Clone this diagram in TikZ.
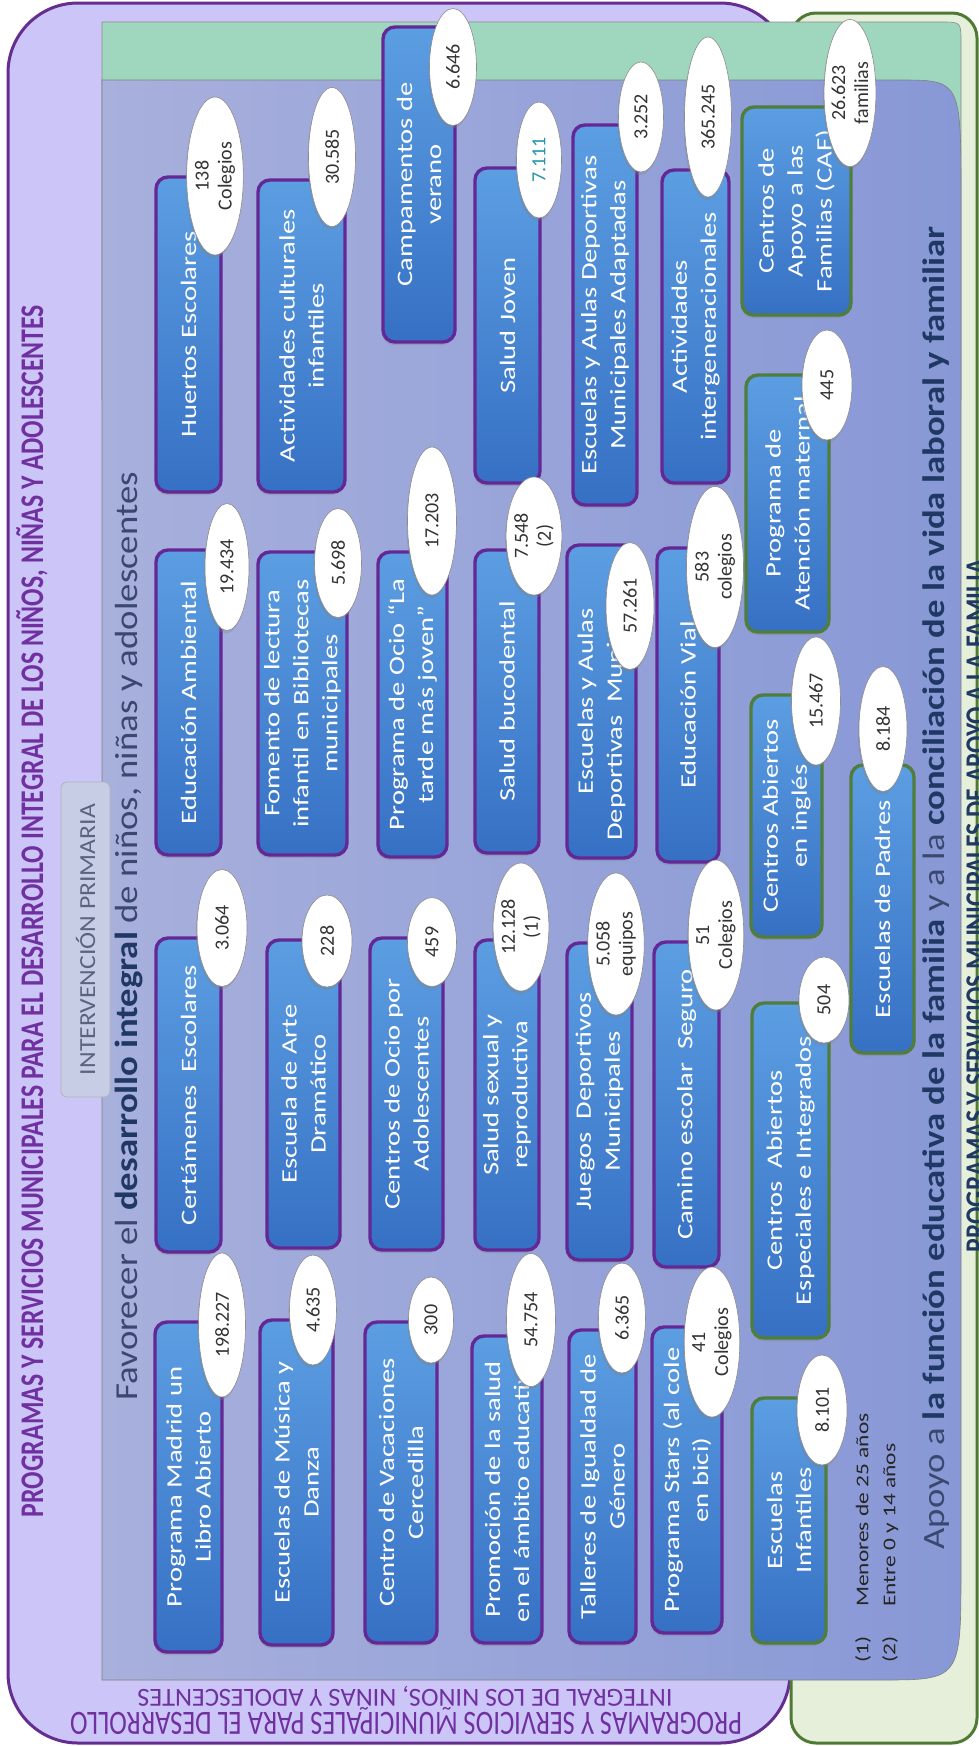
\documentclass[tikz,border=0pt]{standalone}
\usepackage{graphicx}
\usepackage{fontspec}
\setmainfont{Carlito}
\newfontfamily\boxfont[FakeStretch=1.3]{Carlito}
\usetikzlibrary{shapes.geometric,shadows}

\definecolor{lavanda}{RGB}{204,198,248}
\definecolor{morado}{RGB}{102,45,145}
\definecolor{titulo}{RGB}{112,48,160}
\definecolor{menta}{RGB}{158,214,190}
\definecolor{verdeclaro}{RGB}{229,239,218}
\definecolor{verde}{RGB}{79,122,52}
\definecolor{panelA}{RGB}{168,176,220}
\definecolor{panelB}{RGB}{136,152,214}
\definecolor{azulA}{RGB}{92,158,226}
\definecolor{azulB}{RGB}{54,112,196}
\definecolor{cajamorada}{RGB}{100,40,150}
\definecolor{cajaverde}{RGB}{80,125,60}
\definecolor{pestana}{RGB}{200,205,230}
\definecolor{gristexto}{RGB}{90,100,125}
\definecolor{pizarra}{RGB}{58,72,112}
\definecolor{marino}{RGB}{31,56,100}
\definecolor{turquesa}{RGB}{40,150,170}

\tikzset{
  prog/.style={rectangle, rounded corners=12pt, draw=cajamorada, line width=3.4pt,
    top color=azulA, bottom color=azulB, text=white, align=center, rotate=90,
    inner sep=2pt, font=\boxfont\fontsize{22}{29}\selectfont,
    drop shadow={shadow xshift=-1pt, shadow yshift=-3pt, opacity=0.35}},
  fam/.style={prog, draw=cajaverde},
  cifra/.style={ellipse, draw=black!45, line width=0.6pt, fill=white, text=black!80,
    align=center, rotate=90, inner sep=0pt, font=\fontsize{20}{23}\selectfont,
    drop shadow={shadow xshift=-1pt, shadow yshift=-3pt, opacity=0.3}},
}

\begin{document}
\begin{tikzpicture}[x=1pt, y=-1pt]
\useasboundingbox (0,0) rectangle (979,1746);
\fill[white] (0,0) rectangle (979,1746);

% paneles de fondo
\draw[fill=lavanda, draw=morado, line width=3pt, rounded corners=70pt] (8,3) rectangle (790,1743);
\draw[fill=verdeclaro, draw=verde, line width=3pt, rounded corners=25pt] (791,13) rectangle (977,1743);
\draw[fill=menta, draw=black!45, line width=0.6pt]
  (102,400) -- (102,22) -- (941,22) .. controls (961,22) .. (961,42) -- (961,400);
\draw[left color=panelA, right color=panelB, draw=black!50, line width=0.6pt]
  (102,80) -- (899,80) .. controls (961,80) .. (961,200) -- (961,1567)
  .. controls (961,1680) .. (880,1680) -- (102,1680) -- cycle;

% titulos
\node[rotate=90, anchor=base, inner sep=0pt, text=titulo] (titulo) at (43,911)
  {\resizebox{1212pt}{\height}{\fontsize{33}{33}\selectfont\bfseries PROGRAMAS Y SERVICIOS MUNICIPALES PARA EL DESARROLLO INTEGRAL DE LOS NIÑOS, NIÑAS Y ADOLESCENTES}};
\node[rotate=180, anchor=base, inner sep=0pt, text=titulo] (pie1) at (406,1712)
  {\resizebox{672pt}{\height}{\fontsize{34}{34}\selectfont PROGRAMAS Y SERVICIOS MUNICIPALES PARA EL DESARROLLO}};
\node[rotate=180, anchor=base, inner sep=0pt, text=titulo] (pie2) at (405,1689)
  {\resizebox{535pt}{\height}{\fontsize{26}{26}\selectfont INTEGRAL DE LOS NIÑOS, NIÑAS Y ADOLESCENTES}};
\node[rotate=90, anchor=base, inner sep=0pt, text=marino] (familia) at (986,906)
  {\resizebox{693pt}{\height}{\fontsize{30}{30}\selectfont\bfseries PROGRAMAS Y SERVICIOS MUNICIPALES DE APOYO A LA FAMILIA}};

\node[rotate=90, draw=black!30, fill=pestana, rounded corners=6pt, line width=0.8pt,
  minimum width=315, minimum height=49, text=gristexto] (primaria) at (85.5,939.5)
  {\resizebox{271pt}{\height}{\fontsize{23}{23}\selectfont INTERVENCIÓN PRIMARIA}};

\node[rotate=90, anchor=base, inner sep=0pt, text=pizarra] (favorecer) at (137,936)
  {\resizebox{928pt}{\height}{\fontsize{32}{32}\selectfont Favorecer el \textcolor{marino}{\bfseries desarrollo integral} de niños, niñas y adolescentes}};
\node[rotate=90, anchor=base, inner sep=0pt, text=pizarra] (apoyo) at (944,888)
  {\resizebox{1323pt}{\height}{\fontsize{31}{31}\selectfont Apoyo a \textcolor{marino}{\bfseries la función educativa de la familia} y a la \textcolor{marino}{\bfseries conciliación de la vida laboral y familiar}}};

% programas: nombre / centro x / centro y / largo / ancho / texto
\foreach \nom/\cx/\cy/\lar/\anc/\txt in {
  huertos/188.5/334.5/315/65/{Huertos Escolares},
  edamb/188.5/702.5/305/65/{Educación Ambiental},
  certamenes/188.5/1095/314/65/{Certámenes\ \ Escolares},
  madrid/188.5/1487/330/67/{Programa Madrid un\\Libro Abierto},
  actcult/301.5/336/312/87/{Actividades culturales\\infantiles},
  fomento/302.5/703.5/303/89/{Fomento de lectura\\infantil en Bibliotecas\\municipales},
  arte/303.5/1094/308/73/{Escuela de Arte\\Dramático},
  musica/296.5/1482.5/325/73/{Escuelas de Música y\\Danza},
  campamentos/419/184.5/315/72/{Campamentos de\\verano},
  ocio/412.5/704.5/305/69/{Programa de Ocio “La\\tarde más joven”},
  centrosocio/406.5/1094/312/73/{Centros de Ocio por\\Adolescentes},
  vacaciones/401/1482.5/321/72/{Centro de Vacaciones\\Cercedilla},
  saludjoven/507.5/325.5/315/65/{Salud Joven},
  bucodental/507/701.5/303/64/{Salud bucodental},
  sexual/507/1095/310/64/{Salud sexual y\\reproductiva},
  promocion/507/1489.5/307/70/{Promoción de la salud\\en el ámbito educativo},
  adaptadas/605/315/380/64/{Escuelas y Aulas Deportivas\\Municipales Adaptadas},
  deportivas/601.5/701.5/313/69/{Escuelas y Aulas\\Deportivas\ \ Municipales},
  juegos/599.5/1101.5/317/65/{Juegos\ \ Deportivos\\Municipales},
  talleres/602.5/1486.5/313/67/{Talleres de Igualdad de\\Género},
  intergen/695.5/326.5/313/67/{Actividades\\intergeneracionales},
  vial/688/705/314/62/{Educación Vial},
  camino/686.5/1104.5/325/65/{Camino escolar\ \ Seguro},
  stars/687/1480/306/70/{Programa Stars (al cole\\en bici)}}{
  \node[prog, minimum width=\lar, minimum height=\anc] (\nom) at (\cx,\cy) {\txt};
}
\foreach \nom/\cx/\cy/\lar/\anc/\txt in {
  caf/796.5/211/208/109/{Centros de\\Apoyo a las\\Familias (CAF)},
  maternal/787.5/503.5/257/83/{Programa de\\Atención maternal},
  ingles/786.5/816/242/71/{Centros Abiertos\\en inglés},
  especiales/790.5/1170.5/335/77/{Centros\ \ Abiertos\\Especiales e Integrados},
  infantiles/789/1520.5/245/74/{Escuelas\\Infantiles},
  padres/882.5/909/288/63/{Escuelas de Padres}}{
  \node[fam, minimum width=\lar, minimum height=\anc] (\nom) at (\cx,\cy) {\txt};
}

% cifras
\foreach \nom/\cx/\cy/\lar/\anc/\txt in {
  o138/215/176/158/50/{138\\Colegios},
  o30585/332/157/139/47/{30.585},
  o6646/453/67/117/47/{6.646},
  o7111/539/160/116/45/{\textcolor{turquesa}{7.111}},
  o3252/641/117/110/45/{3.252},
  o365245/708/117/160/47/{365.245},
  o26623/850/93/147/45/{26.623\\familias},
  o445/827/385/110/50/{445},
  o19434/227/567/127/44/{19.434},
  o5698/338/563/109/47/{5.698},
  o17203/432/521/148/49/{17.203},
  o7548/534/536/118/50/{7.548\\(2)},
  o57261/630/606/127/48/{57.261},
  o583/715/567/161/57/{583\\colegios},
  o15467/816/701/128/49/{15.467},
  o8184/883/729/125/48/{8.184},
  o3064/222/928/117/50/{3.064},
  o228/327/941/92/50/{228},
  o459/432/942/89/49/{459},
  o12128/521/927/128/55/{12.128\\(1)},
  o5058/616/944/142/55/{5.058\\equipos},
  o51/716/935/150/51/{51\\Colegios},
  o504/824/1000/86/50/{504},
  o198227/222/1325/144/47/{198.227},
  o4635/313/1310/110/47/{4.635},
  o300/431/1320/86/45/{300},
  o54754/531/1320/133/49/{54.754},
  o6365/622/1318/110/47/{6.365},
  o41/712/1342/150/51/{41\\Colegios},
  o8101/822/1410/110/50/{8.101}}{
  \node[cifra, minimum width=\lar, minimum height=\anc] (\nom) at (\cx,\cy) {\txt};
}

% notas
\node[rotate=90, anchor=north west, inner sep=0pt, align=left, text=black!85,
  font=\boxfont\fontsize{18}{27}\selectfont] (notas) at (855,1663)
  {\makebox[56pt][l]{(1)}Menores de 25 años\\\makebox[56pt][l]{(2)}Entre 0 y 14 años};
\end{tikzpicture}
\end{document}
